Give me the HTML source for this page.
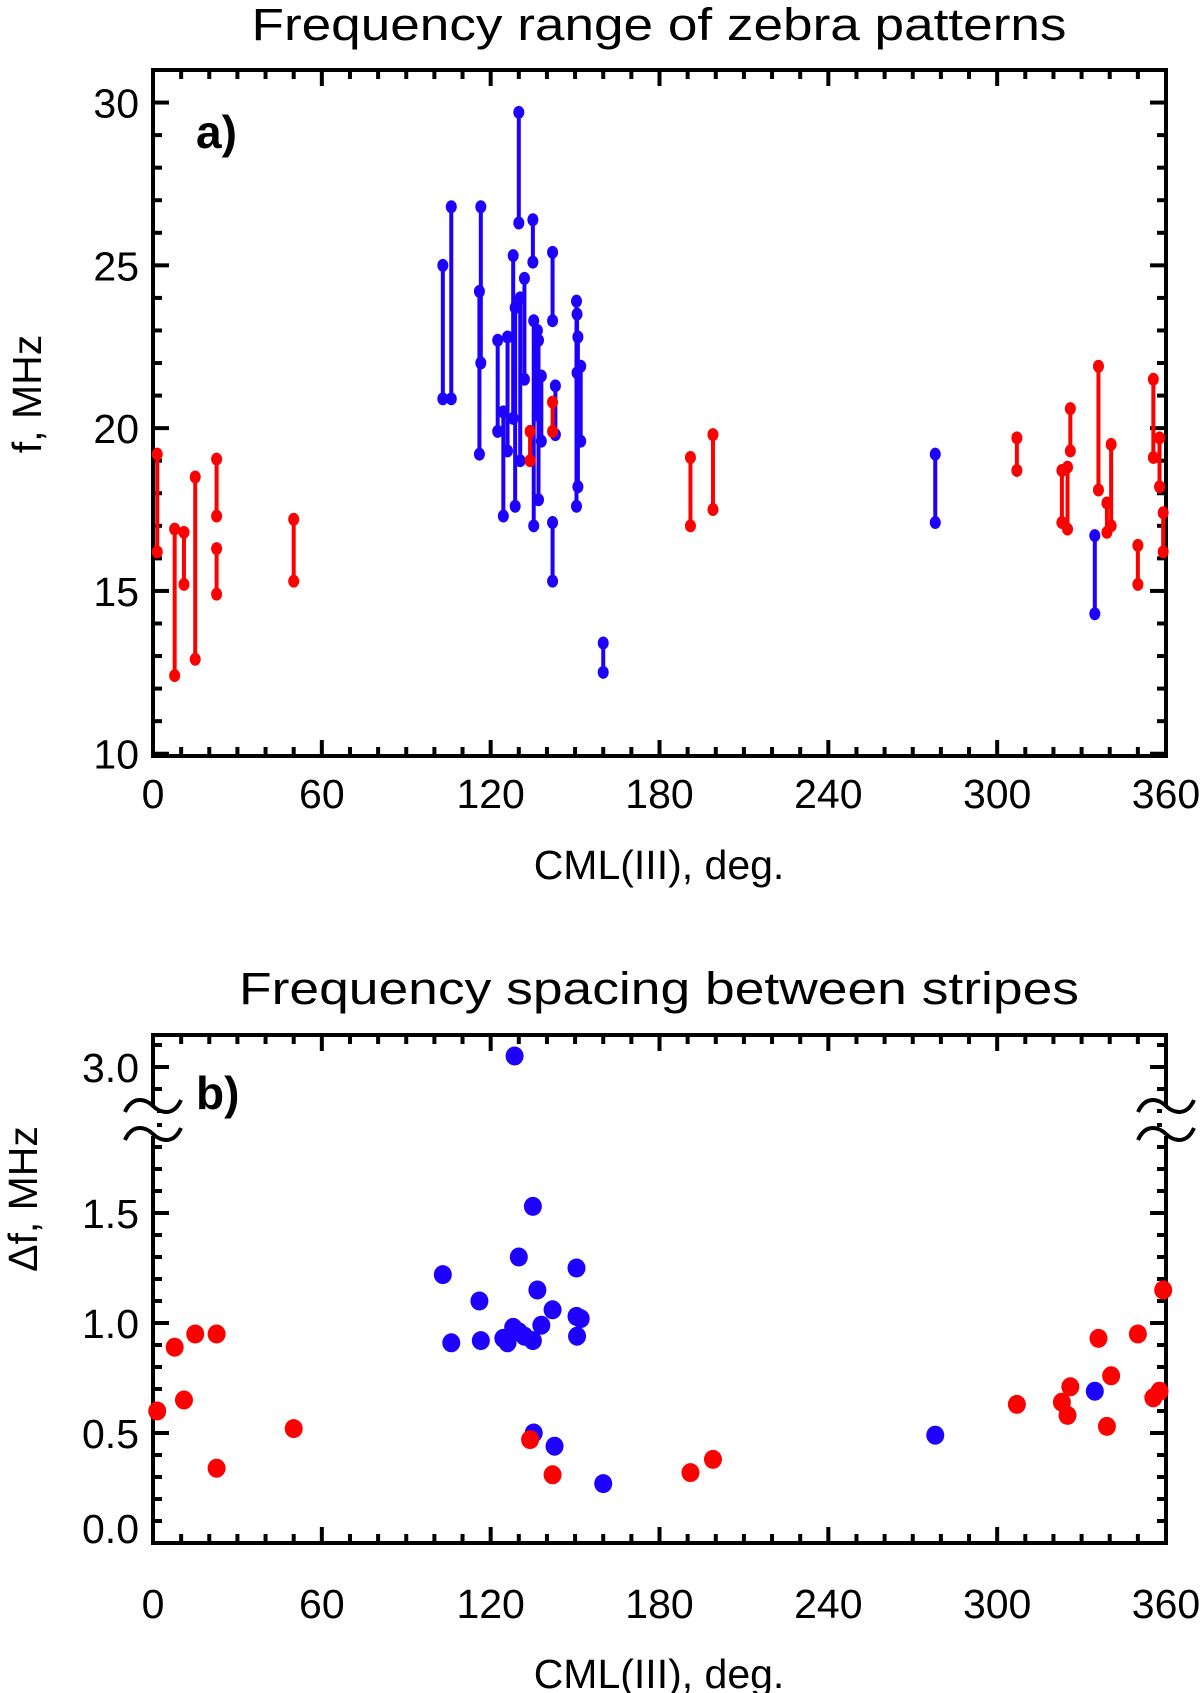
<!DOCTYPE html>
<html><head><meta charset="utf-8"><style>
html,body{margin:0;padding:0;background:#fff}
svg{display:block}
text{font-family:"Liberation Sans",Arial,sans-serif;fill:#000}
</style></head>
<body>
<svg id="chart" width="1200" height="1693" viewBox="0 0 1200 1693" xmlns="http://www.w3.org/2000/svg">
<rect width="1200" height="1693" fill="#fff"/>
<g id="pa"></g>
<g id="pb"></g>
</svg>
<script>
// Panel a: frequency ranges [cml, fHigh, fLow]
const redRangeCml  = [1.5,7.7,11,15,22.6,22.6,50,134,142,191,199,307,323,325,326,336,339,340.5,350,355.5,357.7,359];
const redRangeHigh = [19.2,16.9,16.8,18.5,19.05,16.3,17.2,19.9,20.8,19.1,19.8,19.7,18.7,18.8,20.6,21.9,17.7,19.5,16.4,21.5,19.7,17.4];
const redRangeLow  = [16.2,12.4,15.2,12.9,17.3,14.9,15.3,19.0,19.9,17.0,17.5,18.7,17.1,16.9,19.3,18.1,16.8,17.0,15.2,19.1,18.2,16.2];
const blueRangeCml  = [103,106,116,116.5,122.5,124.5,126,128,128.7,130,130.5,132,135,135.3,136.6,137,138,142,142,143,150.5,150.7,151,152,160,278,334.7];
const blueRangeHigh = [25.0,26.8,24.2,26.8,22.7,20.5,22.8,25.3,23.7,29.7,24.0,24.6,26.4,23.3,23.0,22.7,21.6,25.4,17.1,21.3,23.9,23.5,22.8,21.9,13.4,19.2,16.7];
const blueRangeLow  = [20.9,20.9,19.2,22.0,19.9,17.3,19.3,20.3,17.6,26.3,19.0,21.5,25.1,17.0,20.4,17.8,19.6,23.3,15.3,19.8,17.6,21.7,18.2,19.6,12.5,17.1,14.3];
// Panel b: spacing
const redSpCml = [1.5,7.7,11,15,22.6,22.6,50,134,142,191,199,307,323,325,326,336,339,340.5,350,355.5,357.7,359];
const redSpVal = [0.60,0.89,0.65,0.95,0.95,0.34,0.52,0.47,0.31,0.32,0.38,0.63,0.64,0.58,0.71,0.93,0.53,0.76,0.95,0.66,0.69,1.15];
const blueSpCml = [103,106,116,116.5,124.5,126,128,130,130,132,135,135,135.3,136.6,138,142,142.7,150.5,150.5,152,150.7,160,278,334.7,128.5];
const blueSpVal = [1.22,0.91,1.10,0.92,0.93,0.91,0.98,1.30,0.96,0.94,1.53,0.92,0.50,1.15,0.99,1.06,0.44,1.25,1.03,1.02,0.94,0.27,0.49,0.69,3.05];
const xTicks = [0,60,120,180,240,300,360];
const aTicks = [10,15,20,25,30];
const bTicks = [0.0,0.5,1.0,1.5,3.0];
const bTickLabels = ["0.0","0.5","1.0","1.5","3.0"];

const NS="http://www.w3.org/2000/svg";
function mk(parent,tag,attrs,txt){const e=document.createElementNS(NS,tag);for(const k in attrs)e.setAttribute(k,attrs[k]);if(txt!==undefined)e.textContent=txt;parent.appendChild(e);return e;}
const L=153,R=1166;
const xs=v=>L+(v/360)*(R-L);
const aT=70,aB=756;
const ya=v=>aB-(v-9.93)/(31.0-9.93)*(aB-aT);
const bT=1035,bB=1543;
const yb=v=>v<=2.2?bB-v*220:1067-(v-3)*220;
const RED="#ff0000",BLUE="#1e00ff";
const FS=41;

function frame(g,T,B,yMinor,yMajor,yf){
  const r=mk(g,'rect',{x:L,y:T,width:R-L,height:B-T,fill:'none',stroke:'#000','stroke-width':4});
  
  
  for(let d=0;d<=360;d+=10){
    const maj=d%60===0, len=maj?16:9, x=xs(d);
    const t1=mk(g,'line',{x1:x,y1:B,x2:x,y2:B-len,stroke:'#000','stroke-width':4});
    
    
    const t2=mk(g,'line',{x1:x,y1:T,x2:x,y2:T+len,stroke:'#000','stroke-width':4});
    
    
  }
  yMinor.forEach(v=>{
    const maj=yMajor.some(m=>Math.abs(m-v)<1e-6), len=maj?16:9, y=yf(v);
    if(y<T+2||y>B-2)return;
    const t1=mk(g,'line',{x1:L,y1:y,x2:L+len,y2:y,stroke:'#000','stroke-width':4});
    
    
    const t2=mk(g,'line',{x1:R,y1:y,x2:R-len,y2:y,stroke:'#000','stroke-width':4});
    
    
  });
}
function xLabels(g,yb_){
  xTicks.forEach(v=>{
    const t=mk(g,'text',{x:xs(v),y:yb_,'font-size':FS,'text-anchor':'middle'},String(v));
    
    
  });
}

// Panel A
const pa=document.getElementById('pa');
let t=mk(pa,'text',{x:659,y:40,'font-size':45,'text-anchor':'middle',textLength:815,lengthAdjust:'spacingAndGlyphs'},'Frequency range of zebra patterns');


const aMinor=[];for(let v=10;v<=31;v++)aMinor.push(v);
frame(pa,aT,aB,aMinor,aTicks,ya);
aTicks.forEach(v=>{
  const e=mk(pa,'text',{x:139,y:ya(v)+15,'font-size':FS,'text-anchor':'end'},String(v));
  
  
});
xLabels(pa,808);
t=mk(pa,'text',{x:659,y:879,'font-size':FS,'text-anchor':'middle'},'CML(III), deg.');


t=mk(pa,'text',{x:41,y:394,'font-size':FS,'text-anchor':'middle',transform:'rotate(-90 41 394)'},'f, MHz');


t=mk(pa,'text',{x:196,y:148,'font-size':46,'font-weight':'bold'},'a)');


function ranges(cml,hi,lo,col,name){
  cml.forEach((c,i)=>{
    const x=xs(c);
    const ln=mk(pa,'line',{x1:x,y1:ya(hi[i]),x2:x,y2:ya(lo[i]),stroke:col,'stroke-width':4});
    
    
    [hi[i],lo[i]].forEach(v=>{
      const d=mk(pa,'ellipse',{cx:x,cy:ya(v),rx:5.5,ry:6.5,fill:col});
      
      
    });
  });
}
ranges(blueRangeCml,blueRangeHigh,blueRangeLow,BLUE,'blue');
ranges(redRangeCml,redRangeHigh,redRangeLow,RED,'red');

// Panel B
const pb=document.getElementById('pb');
t=mk(pb,'text',{x:659,y:1004,'font-size':45,'text-anchor':'middle',textLength:840,lengthAdjust:'spacingAndGlyphs'},'Frequency spacing between stripes');


const bMinor=[];for(let i=0;i<=19;i++)bMinor.push(i/10);for(let i=28;i<=31;i++)bMinor.push(i/10);
frame(pb,bT,bB,bMinor,[0,0.5,1.0,1.5,3.0],yb);
bTicks.forEach((v,i)=>{
  const dy = v===0 ? 0 : 15;
  const e=mk(pb,'text',{x:139,y:yb(v)+dy,'font-size':FS,'text-anchor':'end'},bTickLabels[i]);
  
  
});
xLabels(pb,1618);
t=mk(pb,'text',{x:659,y:1688,'font-size':FS,'text-anchor':'middle'},'CML(III), deg.');


t=mk(pb,'text',{x:37,y:1199,'font-size':FS,'text-anchor':'middle',transform:'rotate(-90 37 1199)'},'\u0394f, MHz');


t=mk(pb,'text',{x:196,y:1109,'font-size':46,'font-weight':'bold'},'b)');


// axis break marks
[L,R].forEach(cx=>{
  const gb=mk(pb,'g',{});
  
  
  mk(gb,'rect',{x:cx-4,y:1106,width:8,height:30,fill:'#fff'});
  [1106,1134].forEach(yy=>{
    mk(gb,'path',{d:`M${cx-28} ${yy+6} C ${cx-20} ${yy-12}, ${cx-6} ${yy-6}, ${cx} ${yy} S ${cx+20} ${yy+12}, ${cx+28} ${yy-6}`,fill:'none',stroke:'#000','stroke-width':4});
  });
});
function dots(cml,val,col,name){
  cml.forEach((c,i)=>{
    const d=mk(pb,'ellipse',{cx:xs(c),cy:yb(val[i]),rx:9,ry:9.5,fill:col});
    
    
  });
}
dots(blueSpCml,blueSpVal,BLUE,'blue');
dots(redSpCml,redSpVal,RED,'red');
</script>
</body></html>
